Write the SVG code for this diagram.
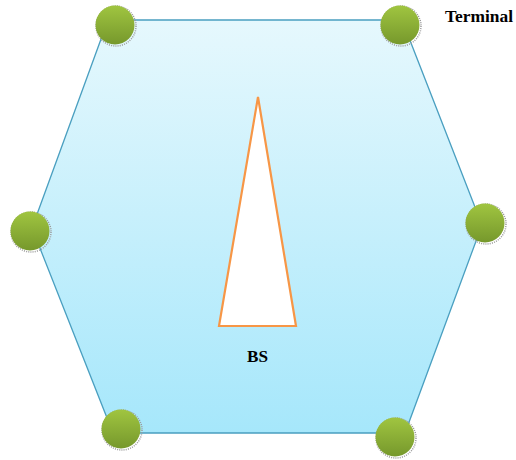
<svg xmlns="http://www.w3.org/2000/svg" width="516" height="460" viewBox="0 0 516 460">
<defs>
<linearGradient id="hexg" x1="0" y1="0" x2="0" y2="1">
<stop offset="0" stop-color="#e6f8fd"/>
<stop offset="1" stop-color="#a6e7fb"/>
</linearGradient>
<linearGradient id="ballg" x1="0" y1="0" x2="0" y2="1">
<stop offset="0" stop-color="#a0c540"/>
<stop offset="1" stop-color="#76982c"/>
</linearGradient>
</defs>
<style>
.term circle.sh{fill:none;stroke:#9a9a9a;stroke-width:1.5;stroke-dasharray:1 1.2}
.term circle.b{fill:url(#ballg)}
.lbl{font-family:"Liberation Serif",serif;font-weight:bold;fill:#000}
</style>
<g id="cell">
<polygon points="108,20 402,20 482,225 405,433 113,433 32,228" fill="url(#hexg)" stroke="#4a9fc0" stroke-width="1.3"/>
</g>
<g id="bs">
<polygon points="258,97 219,326 296,326" fill="#ffffff" stroke="#f79646" stroke-width="2.2"/>
<text class="lbl" x="247" y="362" font-size="17" textLength="21" lengthAdjust="spacingAndGlyphs">BS</text>
</g>
<g id="terminal-label">
<text class="lbl" x="445" y="22" font-size="17" textLength="68" lengthAdjust="spacingAndGlyphs">Terminal</text>
</g>
<g id="t1" class="term"><circle class="sh" cx="116" cy="26" r="20"/><circle class="b" cx="115" cy="25" r="19.5"/></g>
<g id="t2" class="term"><circle class="sh" cx="401" cy="26" r="20"/><circle class="b" cx="400" cy="25" r="19.5"/></g>
<g id="t3" class="term"><circle class="sh" cx="31" cy="232" r="20"/><circle class="b" cx="30" cy="231" r="19.5"/></g>
<g id="t4" class="term"><circle class="sh" cx="486" cy="224" r="20"/><circle class="b" cx="485" cy="223" r="19.5"/></g>
<g id="t5" class="term"><circle class="sh" cx="122" cy="430" r="20"/><circle class="b" cx="121" cy="429" r="19.5"/></g>
<g id="t6" class="term"><circle class="sh" cx="396" cy="438" r="20"/><circle class="b" cx="395" cy="437" r="19.5"/></g>
</svg>
